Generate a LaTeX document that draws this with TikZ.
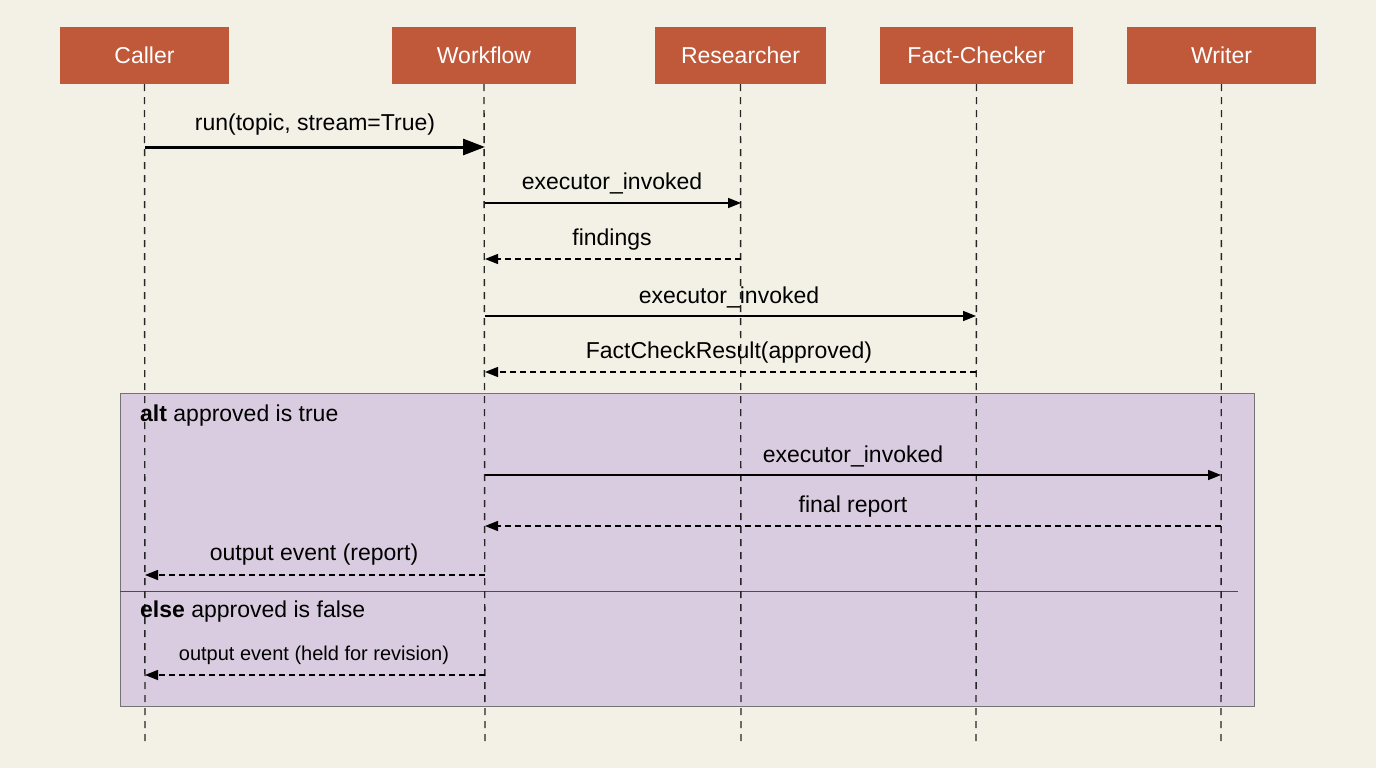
\documentclass[tikz,border=0pt]{standalone}
\usepackage{fontspec}
\setmainfont{Liberation Sans}
\usetikzlibrary{arrows.meta}
\definecolor{bg}{HTML}{F3F0E6}
\definecolor{hdr}{HTML}{C0583A}
\definecolor{alt}{HTML}{D9CCE0}
\tikzset{
  hdrbox/.style={fill=hdr,text=white,minimum height=57pt,font=\fontsize{23}{26}\selectfont,inner sep=0pt},
  life/.style={dashed,line width=1.4pt,dash pattern=on 7pt off 6pt,black!85},
  msg/.style={line width=1.6pt,-{Triangle[length=13pt,width=10pt]}},
  ret/.style={line width=1.4pt,dash pattern=on 6pt off 4pt,-{Triangle[length=13pt,width=10pt]}},
  lbl/.style={font=\fontsize{23}{26}\selectfont,inner sep=0pt}
}
\begin{document}
\begin{tikzpicture}[x=1pt,y=-1pt]
\fill[bg] (0,0) rectangle (1376,768);
\useasboundingbox (0,0) rectangle (1376,768);
\node[hdrbox,minimum width=169pt] (ca) at (144.5,55.5) {Caller};
\node[hdrbox,minimum width=184pt] (wf) at (484,55.5) {Workflow};
\node[hdrbox,minimum width=171pt] (re) at (740.5,55.5) {Researcher};
\node[hdrbox,minimum width=193pt] (fc) at (976.5,55.5) {Fact-Checker};
\node[hdrbox,minimum width=189pt] (wr) at (1221.5,55.5) {Writer};
\node[draw=black!55,line width=1pt,fill=alt,minimum width=1134pt,minimum height=313pt,inner sep=0pt] (altbox) at (687,549.5) {};
\draw[black!70,line width=1pt] (120,591) coordinate (d1) -- (1238,591) coordinate (d2);
\foreach \n/\x in {ca/145,wf/485,re/741,fc/976,wr/1221}{
  \coordinate (\n e) at (\x,742);
  \draw[life] (\n.south) -- (\n e);
  \foreach \y in {147,203,259,316,372,475,526,575,675}{\coordinate (\n\y) at (\x,\y);}
}
\draw[msg,line width=3pt,-{Triangle[length=22pt,width=16pt]}] (ca147) -- (wf147);
\node[lbl] (l1) at (315,125) {run(topic, stream=True)};
\draw[msg] (wf203) -- (re203);
\node[lbl] (l2) at (612,183) {executor\_invoked};
\draw[ret] (re259) -- (wf259);
\node[lbl] (l3) at (612,240) {findings};
\draw[msg] (wf316) -- (fc316);
\node[lbl] (l4) at (729,297) {executor\_invoked};
\draw[ret] (fc372) -- (wf372);
\node[lbl] (l5) at (729,353) {FactCheckResult(approved)};
\node[lbl,anchor=west] (a1) at (140,416) {\textbf{alt} approved is true};
\draw[msg] (wf475) -- (wr475);
\node[lbl] (l6) at (853,456) {executor\_invoked};
\draw[ret] (wr526) -- (wf526);
\node[lbl] (l7) at (853,507) {final report};
\draw[ret] (wf575) -- (ca575);
\node[lbl] (l8) at (314,555) {output event (report)};
\node[lbl,anchor=west] (a2) at (140,612) {\textbf{else} approved is false};
\draw[ret] (wf675) -- (ca675);
\node[lbl,font=\fontsize{20}{24}\selectfont] (l9) at (314,655) {output event (held for revision)};
\end{tikzpicture}
\end{document}
